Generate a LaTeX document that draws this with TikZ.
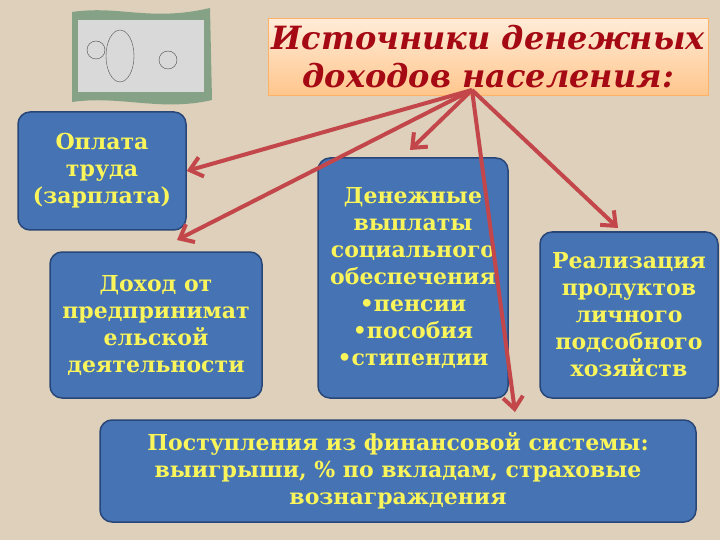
\documentclass[tikz,border=0pt]{standalone}
\usepackage{fontspec}
\setmainfont{DejaVu Serif}
\usetikzlibrary{arrows.meta}
\definecolor{bg}{RGB}{222,208,186}
\definecolor{boxblue}{RGB}{70,115,180}
\definecolor{boxedge}{RGB}{40,70,120}
\definecolor{txt}{RGB}{250,245,90}
\definecolor{arr}{RGB}{195,70,75}
\definecolor{ttl}{RGB}{165,10,20}
\tikzset{
 bx/.style={draw=boxedge,line width=1.5pt,fill=boxblue,rounded corners=12pt,
   text=txt,font=\bfseries\fontsize{22}{27}\selectfont,align=center,inner sep=1pt},
 ar/.style={draw=arr,line width=4pt,-{Straight Barb[length=12pt,width=20pt,line width=4pt]}}
}
\begin{document}
\begin{tikzpicture}[x=1pt,y=-1pt]
\fill[bg] (0,0) rectangle (720,540);
\useasboundingbox (0,0) rectangle (720,540);
% banknote
\fill[gray!70!green!60!black!60] (72,12) .. controls (120,5) and (150,22) .. (210,8) -- (212,100) .. controls (160,112) and (120,95) .. (72,102) -- cycle;
\fill[gray!30] (78,20) rectangle (204,92);
\draw[gray!60!black] (120,56) ellipse (14 and 26);
\draw[gray!60!black] (96,50) circle (9);
\draw[gray!60!black] (168,60) circle (9);
\node[draw=orange!60,top color=orange!15,bottom color=orange!45,minimum width=440,minimum height=77,anchor=north west,inner sep=0,
 text=ttl,font=\bfseries\itshape\fontsize{32}{38}\selectfont,align=center] (t) at (268,18) {Источники денежных\\доходов населения:};
\node[bx,minimum width=168,minimum height=118] (a) at (102,171) {Оплата\\труда\\(зарплата)};
\node[bx,minimum width=212,minimum height=146] (b) at (156,325) {Доход от\\предпринимат\\ельской\\деятельности};
\node[bx,minimum width=190,minimum height=240] (c) at (413,278) {Денежные\\выплаты\\социального\\обеспечения\\•пенсии\\•пособия\\•стипендии};
\node[bx,minimum width=178,minimum height=166] (d) at (629,315) {Реализация\\продуктов\\личного\\подсобного\\хозяйств};
\node[bx,minimum width=596,minimum height=102] (e) at (398,471) {Поступления из финансовой системы:\\выигрыши, \% по вкладам, страховые\\вознаграждения};
\coordinate (o) at (472,90);
\draw[ar] (o) -- (a.east);
\draw[ar] (o) -- (177,240);
\draw[ar] (o) -- (410,150);
\draw[ar] (o) -- (618,228);
\draw[ar] (o) -- (515,412);
\end{tikzpicture}
\end{document}
